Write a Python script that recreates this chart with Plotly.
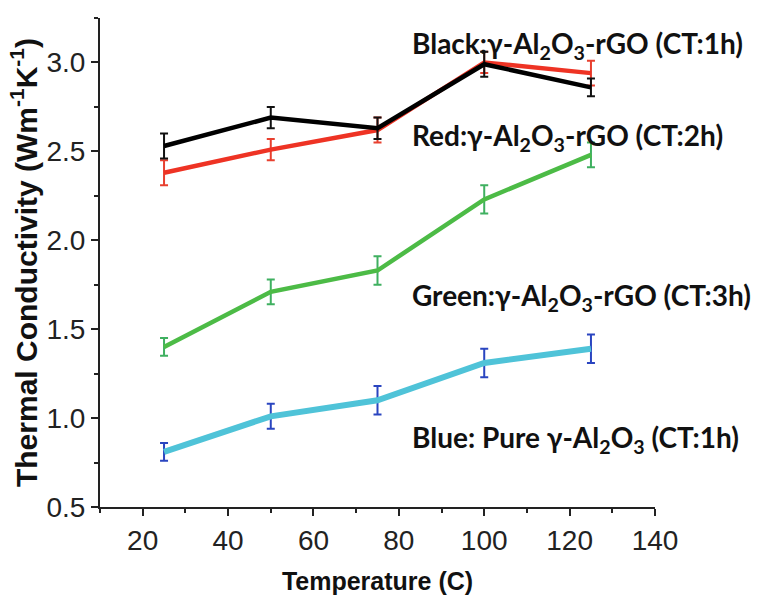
import plotly.graph_objects as go

# Temperatures (C)
temperature = [25, 50, 75, 100, 125]

# Thermal conductivity (W m^-1 K^-1) for each sample
k_black = [2.53, 2.69, 2.63, 2.99, 2.86]
k_red = [2.38, 2.51, 2.62, 3.00, 2.94]
k_green = [1.40, 1.71, 1.83, 2.23, 2.48]
k_blue = [0.81, 1.01, 1.10, 1.31, 1.39]

# Error bar half-widths
err_black = [0.07, 0.06, 0.06, 0.07, 0.05]
err_red = [0.07, 0.06, 0.07, 0.06, 0.07]
err_green = [0.05, 0.07, 0.08, 0.08, 0.07]
err_blue = [0.05, 0.07, 0.08, 0.08, 0.08]

x_ticks = [20, 40, 60, 80, 100, 120, 140]
y_ticks = [0.5, 1.0, 1.5, 2.0, 2.5, 3.0]

labels = [
    "Black:γ-Al<sub>2</sub>O<sub>3</sub>-rGO (CT:1h)",
    "Red:γ-Al<sub>2</sub>O<sub>3</sub>-rGO (CT:2h)",
    "Green:γ-Al<sub>2</sub>O<sub>3</sub>-rGO (CT:3h)",
    "Blue: Pure γ-Al<sub>2</sub>O<sub>3</sub> (CT:1h)",
]
label_y = [3.10, 2.58, 1.68, 0.88]
label_x = 82.5

series = [
    (k_blue, err_blue, "#4fc3d8", "#2a45c0", 6),
    (k_green, err_green, "#4cbb46", "#3fb060", 4.5),
    (k_red, err_red, "#ee3324", "#e8402f", 4.5),
    (k_black, err_black, "#000000", "#111111", 4.5),
]

fig = go.Figure()
for vals, errs, line_c, err_c, w in series:
    fig.add_trace(go.Scatter(
        x=temperature, y=vals, mode="lines",
        line=dict(color=line_c, width=w),
        error_y=dict(type="data", array=errs, visible=True,
                     color=err_c, thickness=2, width=4),
        showlegend=False,
    ))

for text, y in zip(labels, label_y):
    fig.add_annotation(
        x=label_x, y=y, xref="x", yref="y", text=text, showarrow=False,
        xanchor="left", yanchor="middle",
        font=dict(family="Lato", size=28, color="#111111", weight="bold"),
    )

axis_font = dict(family="Liberation Sans", size=28, color="#222222")
title_font_x = dict(family="Liberation Sans", size=25, color="#111111", weight="bold")
title_font_y = dict(family="Liberation Sans", size=30, color="#111111", weight="bold")

fig.update_xaxes(
    range=[10, 140], tickvals=x_ticks, showline=True, linecolor="#222222", linewidth=2,
    ticks="outside", ticklen=7, tickwidth=2, tickcolor="#222222",
    minor=dict(dtick=10, tick0=10, ticks="outside", ticklen=4, tickwidth=2, tickcolor="#222222"),
    showgrid=False, zeroline=False, tickfont=axis_font,
    title=dict(text="Temperature (C)", font=title_font_x, standoff=18),
)
fig.update_yaxes(
    range=[0.5, 3.25], tickvals=y_ticks, tickformat=".1f", showline=True,
    linecolor="#222222", linewidth=2,
    ticks="outside", ticklen=7, tickwidth=2, tickcolor="#222222",
    minor=dict(dtick=0.25, tick0=0.5, ticks="outside", ticklen=4, tickwidth=2, tickcolor="#222222"),
    showgrid=False, zeroline=False, tickfont=axis_font,
    title=dict(text="Thermal Conductivity (Wm<sup>-1</sup>K<sup>-1</sup>)", font=title_font_y, standoff=0),
)

fig.update_layout(
    width=766, height=605,
    margin=dict(l=100, r=111, t=18, b=98),
    plot_bgcolor="white", paper_bgcolor="white",
)

fig.write_html("out.html")
